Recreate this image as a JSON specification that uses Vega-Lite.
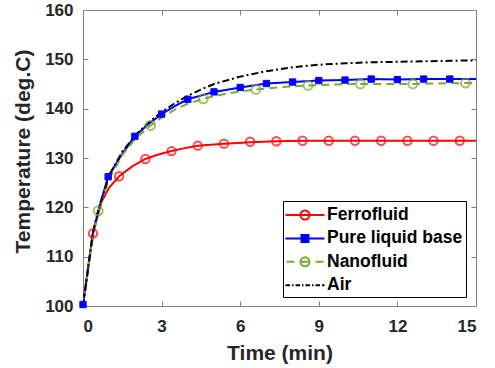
{
  "$schema": "https://vega.github.io/schema/vega-lite/v6.json",
  "width": 393,
  "height": 296,
  "autosize": "none",
  "padding": {"left": 83, "top": 10, "right": 19, "bottom": 62},
  "background": "white",
  "config": {
    "view": {"stroke": null},
    "font": "Liberation Sans",
    "axis": {
      "labelFont": "Liberation Sans", "labelFontWeight": "bold", "labelColor": "#262626", "labelFontSize": 17,
      "titleFont": "Liberation Sans", "titleFontWeight": "bold", "titleColor": "#262626", "titleFontSize": 21,
      "domainColor": "#808080", "tickColor": "#808080", "domainWidth": 1, "tickWidth": 1, "grid": false
    }
  },
  "datasets": {
    "curves": [
      {"s":"Ferrofluid","t":0,"T":100},{"s":"Ferrofluid","t":0.2,"T":107.8},{"s":"Ferrofluid","t":0.38,"T":114.7},{"s":"Ferrofluid","t":0.7,"T":121.0},{"s":"Ferrofluid","t":1.0,"T":124.0},{"s":"Ferrofluid","t":1.38,"T":126.3},{"s":"Ferrofluid","t":1.88,"T":128.3},{"s":"Ferrofluid","t":2.38,"T":129.8},{"s":"Ferrofluid","t":2.88,"T":130.7},{"s":"Ferrofluid","t":3.38,"T":131.4},{"s":"Ferrofluid","t":3.88,"T":132.0},{"s":"Ferrofluid","t":4.38,"T":132.5},{"s":"Ferrofluid","t":5.38,"T":132.9},{"s":"Ferrofluid","t":6.38,"T":133.2},{"s":"Ferrofluid","t":7.38,"T":133.4},{"s":"Ferrofluid","t":8.38,"T":133.5},{"s":"Ferrofluid","t":9.38,"T":133.5},{"s":"Ferrofluid","t":10.38,"T":133.5},{"s":"Ferrofluid","t":11.38,"T":133.5},{"s":"Ferrofluid","t":12.38,"T":133.5},{"s":"Ferrofluid","t":13.38,"T":133.5},{"s":"Ferrofluid","t":14.38,"T":133.5},{"s":"Ferrofluid","t":15,"T":133.5},
      {"s":"Pure liquid base","t":0,"T":100.3},{"s":"Pure liquid base","t":0.38,"T":114.8},{"s":"Pure liquid base","t":0.6,"T":119.6},{"s":"Pure liquid base","t":0.96,"T":126.2},{"s":"Pure liquid base","t":1.5,"T":130.9},{"s":"Pure liquid base","t":1.98,"T":134.4},{"s":"Pure liquid base","t":2.5,"T":136.9},{"s":"Pure liquid base","t":3.0,"T":138.9},{"s":"Pure liquid base","t":3.5,"T":140.5},{"s":"Pure liquid base","t":4.0,"T":141.9},{"s":"Pure liquid base","t":5.0,"T":143.4},{"s":"Pure liquid base","t":6.0,"T":144.3},{"s":"Pure liquid base","t":7.0,"T":145.1},{"s":"Pure liquid base","t":8.0,"T":145.4},{"s":"Pure liquid base","t":9.0,"T":145.7},{"s":"Pure liquid base","t":10.0,"T":145.8},{"s":"Pure liquid base","t":11.0,"T":146.0},{"s":"Pure liquid base","t":12.0,"T":145.9},{"s":"Pure liquid base","t":13.0,"T":146.0},{"s":"Pure liquid base","t":14.0,"T":146.0},{"s":"Pure liquid base","t":15,"T":146.0},
      {"s":"Nanofluid","t":0,"T":100},{"s":"Nanofluid","t":0.3,"T":111.5},{"s":"Nanofluid","t":0.58,"T":119.3},{"s":"Nanofluid","t":1.0,"T":125.8},{"s":"Nanofluid","t":1.5,"T":130.6},{"s":"Nanofluid","t":2.0,"T":133.9},{"s":"Nanofluid","t":2.58,"T":136.6},{"s":"Nanofluid","t":3.0,"T":138.2},{"s":"Nanofluid","t":3.5,"T":139.8},{"s":"Nanofluid","t":4.0,"T":141.0},{"s":"Nanofluid","t":4.59,"T":142.0},{"s":"Nanofluid","t":5.5,"T":143.1},{"s":"Nanofluid","t":6.6,"T":143.9},{"s":"Nanofluid","t":7.6,"T":144.4},{"s":"Nanofluid","t":8.59,"T":144.7},{"s":"Nanofluid","t":9.6,"T":144.9},{"s":"Nanofluid","t":10.59,"T":145.0},{"s":"Nanofluid","t":12.59,"T":145.0},{"s":"Nanofluid","t":14.6,"T":145.2},{"s":"Nanofluid","t":15,"T":145.2},
      {"s":"Air","t":0,"T":100},{"s":"Air","t":0.38,"T":115.0},{"s":"Air","t":0.6,"T":119.8},{"s":"Air","t":1.0,"T":126.5},{"s":"Air","t":1.5,"T":131.3},{"s":"Air","t":2.0,"T":134.6},{"s":"Air","t":2.5,"T":137.2},{"s":"Air","t":3.0,"T":139.3},{"s":"Air","t":3.5,"T":141.1},{"s":"Air","t":4.0,"T":142.6},{"s":"Air","t":4.6,"T":144.1},{"s":"Air","t":5.0,"T":145.0},{"s":"Air","t":6.0,"T":146.5},{"s":"Air","t":7.0,"T":147.6},{"s":"Air","t":8.0,"T":148.4},{"s":"Air","t":9.0,"T":148.9},{"s":"Air","t":10.0,"T":149.2},{"s":"Air","t":11.0,"T":149.4},{"s":"Air","t":12.0,"T":149.5},{"s":"Air","t":13.0,"T":149.6},{"s":"Air","t":14.0,"T":149.7},{"s":"Air","t":15,"T":149.8}
    ],
    "markers": [
      {"s":"Ferrofluid","t":0.38,"T":114.7},{"s":"Ferrofluid","t":1.38,"T":126.3},{"s":"Ferrofluid","t":2.38,"T":129.8},{"s":"Ferrofluid","t":3.38,"T":131.4},{"s":"Ferrofluid","t":4.38,"T":132.5},{"s":"Ferrofluid","t":5.38,"T":132.9},{"s":"Ferrofluid","t":6.38,"T":133.3},{"s":"Ferrofluid","t":7.38,"T":133.4},{"s":"Ferrofluid","t":8.38,"T":133.5},{"s":"Ferrofluid","t":9.38,"T":133.5},{"s":"Ferrofluid","t":10.38,"T":133.5},{"s":"Ferrofluid","t":11.38,"T":133.5},{"s":"Ferrofluid","t":12.38,"T":133.5},{"s":"Ferrofluid","t":13.38,"T":133.5},{"s":"Ferrofluid","t":14.38,"T":133.5},
      {"s":"Pure liquid base","t":0,"T":100.3},{"s":"Pure liquid base","t":0.96,"T":126.2},{"s":"Pure liquid base","t":1.98,"T":134.4},{"s":"Pure liquid base","t":3.0,"T":138.9},{"s":"Pure liquid base","t":4.0,"T":141.9},{"s":"Pure liquid base","t":5.0,"T":143.4},{"s":"Pure liquid base","t":6.0,"T":144.3},{"s":"Pure liquid base","t":7.0,"T":145.1},{"s":"Pure liquid base","t":8.0,"T":145.4},{"s":"Pure liquid base","t":9.0,"T":145.7},{"s":"Pure liquid base","t":10.0,"T":145.8},{"s":"Pure liquid base","t":11.0,"T":146.0},{"s":"Pure liquid base","t":12.0,"T":145.9},{"s":"Pure liquid base","t":13.0,"T":146.0},{"s":"Pure liquid base","t":14.0,"T":146.0},
      {"s":"Nanofluid","t":0.58,"T":119.3},{"s":"Nanofluid","t":2.58,"T":136.6},{"s":"Nanofluid","t":4.59,"T":142.0},{"s":"Nanofluid","t":6.6,"T":143.9},{"s":"Nanofluid","t":8.59,"T":144.7},{"s":"Nanofluid","t":10.59,"T":145.0},{"s":"Nanofluid","t":12.59,"T":145.0},{"s":"Nanofluid","t":14.6,"T":145.2}
    ]
  },
  "resolve": {"axis": {"x": "independent", "y": "independent"}},
  "layer": [
    {
      "data": {"name": "curves"},
      "transform": [{"filter": "datum.s !== 'Nanofluid' && datum.s !== 'Air'"}],
      "mark": {"type": "line", "strokeWidth": 2, "clip": true},
      "encoding": {
        "x": {"field": "t", "type": "quantitative", "scale": {"domain": [0, 15], "nice": false},
          "axis": {"orient": "bottom", "values": [0,3,6,9,12,15], "tickSize": -5, "labelPadding": 17, "title": "Time (min)", "titleBaseline": "alphabetic", "titleY": 53}},
        "y": {"field": "T", "type": "quantitative", "scale": {"domain": [100, 160], "nice": false, "zero": false},
          "axis": {"orient": "left", "values": [100,110,120,130,140,150,160], "tickSize": -5, "labelPadding": 15, "title": "Temperature (deg.C)", "titleAngle": 270, "titleAlign": "center", "titleBaseline": "alphabetic", "titleX": -54, "titleY": 141}},
        "color": {"field": "s", "type": "nominal",
          "scale": {"domain": ["Ferrofluid", "Pure liquid base", "Nanofluid", "Air"], "range": ["#ff0000", "#0000ff", "#77ac30", "#000000"]},
          "legend": {
            "title": null, "orient": "none", "legendX": 200, "legendY": 191,
            "padding": 3, "strokeColor": "#000000", "fillColor": "#ffffff", "cornerRadius": 0,
            "labelFont": "Liberation Sans", "labelFontWeight": "bold", "labelFontSize": 17.5, "labelColor": "#000000",
            "symbolSize": 400, "symbolOffset": 8, "labelOffset": 11, "rowPadding": 3.4, "symbolStrokeWidth": 2,
            "encode": {"symbols": {"update": {
              "shape": {"signal": "datum.value === 'Ferrofluid' ? 'M-1.95,0H1.95M-0.45,0A0.45,0.45,0,1,1,0.45,0A0.45,0.45,0,1,1,-0.45,0Z' : datum.value === 'Pure liquid base' ? 'M-1.95,0H1.95M-0.35,-0.35H0.35V0.35H-0.35Z' : datum.value === 'Nanofluid' ? 'M-1.85,0H-1.05M1.05,0H1.85M-0.45,0H0.45M-0.45,0A0.45,0.45,0,1,1,0.45,0A0.45,0.45,0,1,1,-0.45,0Z' : 'M-1.95,0H-1.5M-1.3,0H-1.15M-0.95,0H-0.5M-0.3,0H-0.15M0.05,0H0.5M0.7,0H0.85M1.05,0H1.5M1.7,0H1.95'"},
              "fill": {"signal": "datum.value === 'Pure liquid base' ? '#0000ff' : 'transparent'"}
            }}}
          }}
      }
    },
    {
      "data": {"name": "curves"},
      "transform": [{"filter": "datum.s === 'Nanofluid'"}],
      "mark": {"type": "line", "strokeWidth": 2, "strokeDash": [8, 5], "clip": true},
      "encoding": {
        "x": {"field": "t", "type": "quantitative", "axis": null},
        "y": {"field": "T", "type": "quantitative", "axis": null},
        "color": {"field": "s", "type": "nominal"}
      }
    },
    {
      "data": {"name": "curves"},
      "transform": [{"filter": "datum.s === 'Air'"}],
      "mark": {"type": "line", "strokeWidth": 2, "strokeDash": [7, 3, 2, 3], "clip": true},
      "encoding": {
        "x": {"field": "t", "type": "quantitative", "axis": null},
        "y": {"field": "T", "type": "quantitative", "axis": null},
        "color": {"field": "s", "type": "nominal"}
      }
    },
    {
      "data": {"name": "markers"},
      "transform": [{"filter": "datum.s === 'Ferrofluid'"}],
      "mark": {"type": "point", "shape": "circle", "filled": false, "stroke": "#ff0000", "strokeWidth": 2, "size": 70},
      "encoding": {
        "x": {"field": "t", "type": "quantitative", "axis": {"orient": "top", "values": [0,3,6,9,12,15], "tickSize": -5, "labels": false, "title": null}},
        "y": {"field": "T", "type": "quantitative", "axis": {"orient": "right", "values": [100,110,120,130,140,150,160], "tickSize": -5, "labels": false, "title": null}}
      }
    },
    {
      "data": {"name": "markers"},
      "transform": [{"filter": "datum.s === 'Pure liquid base'"}],
      "mark": {"type": "point", "shape": "square", "filled": true, "fill": "#0000ff", "stroke": "#0000ff", "strokeWidth": 1, "size": 40, "opacity": 1},
      "encoding": {
        "x": {"field": "t", "type": "quantitative", "axis": null},
        "y": {"field": "T", "type": "quantitative", "axis": null}
      }
    },
    {
      "data": {"name": "markers"},
      "transform": [{"filter": "datum.s === 'Nanofluid'"}],
      "mark": {"type": "point", "shape": "circle", "filled": false, "stroke": "#77ac30", "strokeWidth": 2, "size": 80},
      "encoding": {
        "x": {"field": "t", "type": "quantitative", "axis": null},
        "y": {"field": "T", "type": "quantitative", "axis": null}
      }
    }
  ]
}
